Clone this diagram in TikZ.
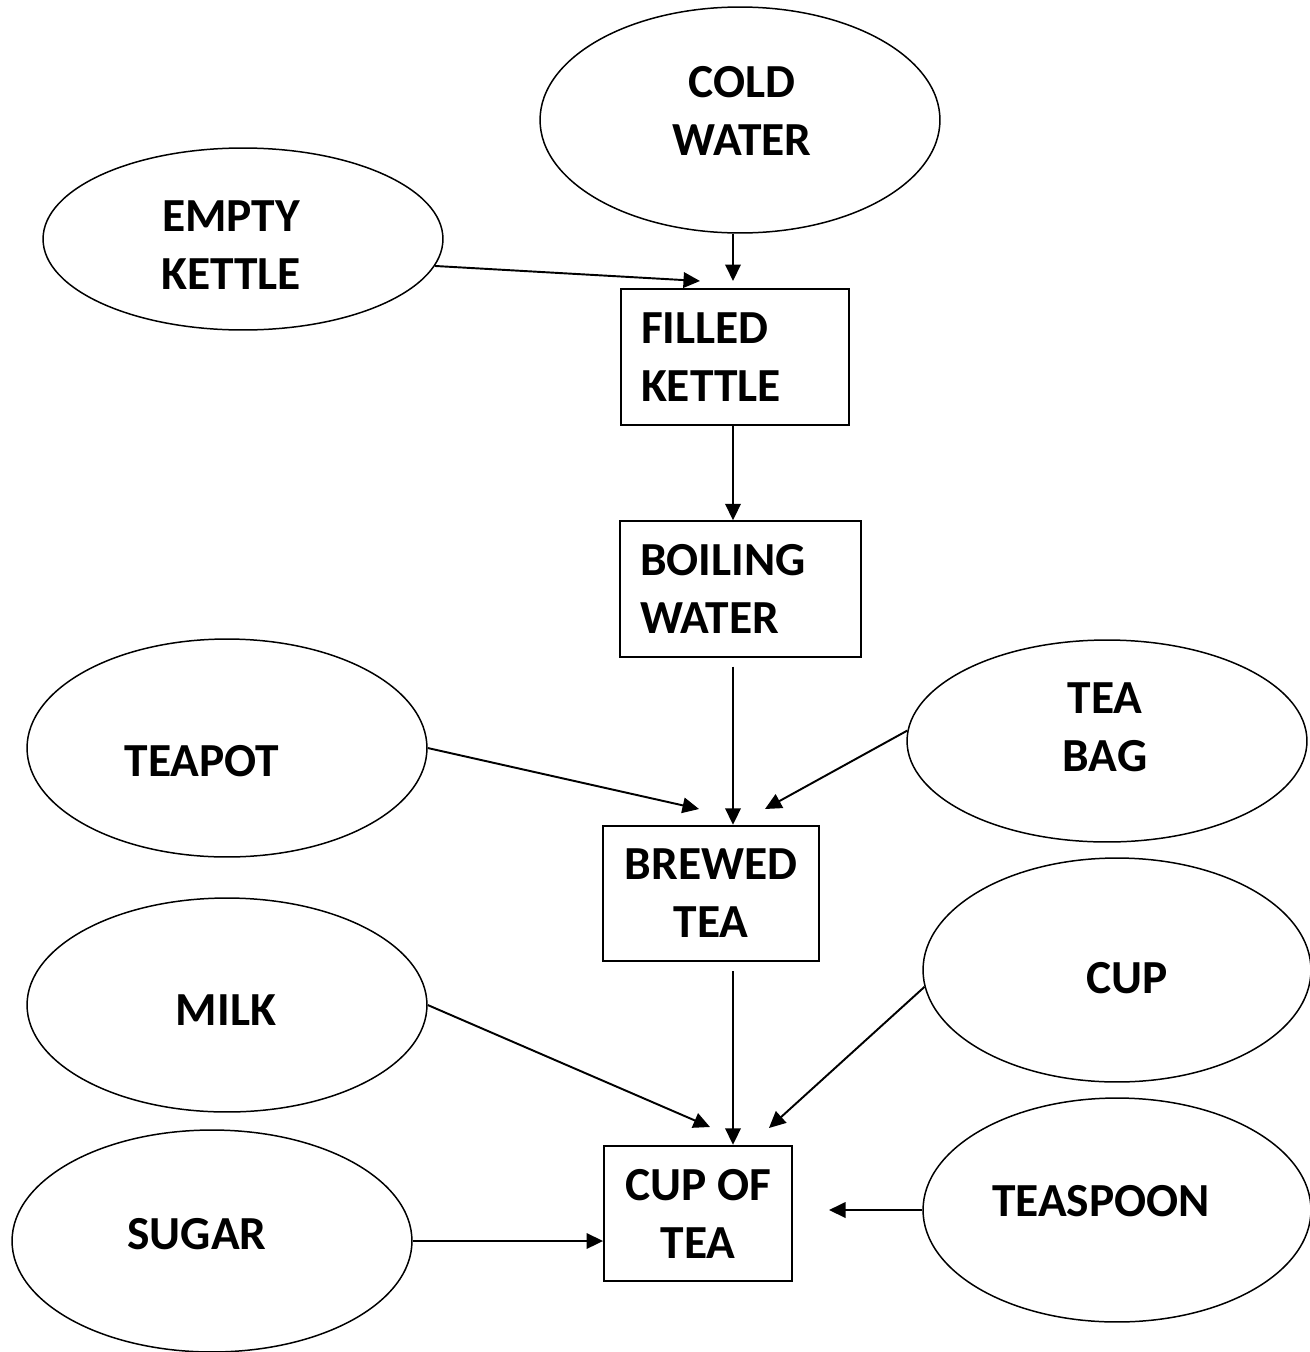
\documentclass[tikz,border=0pt]{standalone}
\usepackage{fontspec}
\setmainfont{Carlito}
\usetikzlibrary{shapes.geometric,arrows.meta}

\tikzset{
    oval/.style={draw, ellipse, line width=0.85pt, inner sep=0pt},
    box/.style={draw, rectangle, line width=1.1pt, inner sep=0pt, minimum height=2.71cm},
    txt/.style={font=\bfseries\fontsize{27}{33}\selectfont, align=center, inner sep=0pt},
    arr/.style={->, line width=1.1pt},
}

\begin{document}
\begin{tikzpicture}[x=0.02cm, y=-0.02cm, >={Triangle[length=0.33cm,width=0.31cm]}]
    \useasboundingbox (0,0) rectangle (1310,1352);

    % things that go in
    \node[oval, minimum width=8cm, minimum height=4.52cm] (cold) at (740,120) {};
    \node[oval, minimum width=8cm, minimum height=3.64cm] (ek) at (243,239) {};
    \node[oval, minimum width=8cm, minimum height=4.36cm] (teapot) at (227,748) {};
    \node[oval, minimum width=8cm, minimum height=4.04cm] (teabag) at (1107,741) {};
    \node[oval, minimum width=8cm, minimum height=4.28cm] (milk) at (227,1005) {};
    \node[oval, minimum width=7.76cm, minimum height=4.48cm] (cupe) at (1117,970) {};
    \node[oval, minimum width=8cm, minimum height=4.44cm] (sugar) at (212,1241) {};
    \node[oval, minimum width=7.76cm, minimum height=4.48cm] (teaspoon) at (1117,1210) {};

    \node[txt] (cold-t) at (742,111) {COLD\\WATER};
    \node[txt] (ek-t) at (231,245) {EMPTY\\KETTLE};
    \node[txt] (teapot-t) at (202,761) {TEAPOT};
    \node[txt] (teabag-t) at (1105,727) {TEA\\BAG};
    \node[txt] (milk-t) at (226,1010) {MILK};
    \node[txt] (cupe-t) at (1127,978) {CUP};
    \node[txt] (sugar-t) at (197,1234) {SUGAR};
    \node[txt] (teaspoon-t) at (1101,1201) {TEASPOON};

    % the steps
    \node[box, txt, align=left, text width=3.76cm, inner xsep=0.4cm] (filled) at (735,357) {FILLED\\KETTLE};
    \node[box, txt, align=left, text width=4.02cm, inner xsep=0.4cm] (boiling) at (740.5,589) {BOILING\\WATER};
    \node[box, txt, minimum width=4.32cm] (brewed) at (711,893.5) {BREWED\\TEA};
    \node[box, txt, minimum width=3.76cm] (cuptea) at (698,1213.5) {CUP OF\\TEA};

    \coordinate (spine) at (733,0);
    \coordinate (cold-tip) at (733,281);
    \coordinate (ek-tip) at (700,281);
    \coordinate (pot-tip) at (699,809);
    \coordinate (bag-tip) at (765,809);
    \coordinate (milk-tip) at (710,1127);
    \coordinate (cup-tip) at (769,1128);
    \coordinate (spoon-tip) at (829,1210);

    \draw[arr] (cold.south -| spine) -- (cold-tip);
    \draw[arr] (ek.-8) -- (ek-tip);
    \draw[arr] (filled.south -| spine) -- (boiling.north -| spine);
    \draw[arr, shorten <=0.18cm] (boiling.south -| spine) -- (brewed.north -| spine);
    \draw[arr] (teapot.east) -- (pot-tip);
    \draw[arr] (teabag.177) -- (bag-tip);
    \draw[arr, shorten <=0.18cm] (brewed.south -| spine) -- (cuptea.north -| spine);
    \draw[arr] (milk.east) -- (milk-tip);
    \draw[arr] (cupe.185) -- (cup-tip);
    \draw[arr] (sugar.east) -- (sugar.east -| cuptea.west);
    \draw[arr] (teaspoon.west) -- (spoon-tip);
\end{tikzpicture}
\end{document}
